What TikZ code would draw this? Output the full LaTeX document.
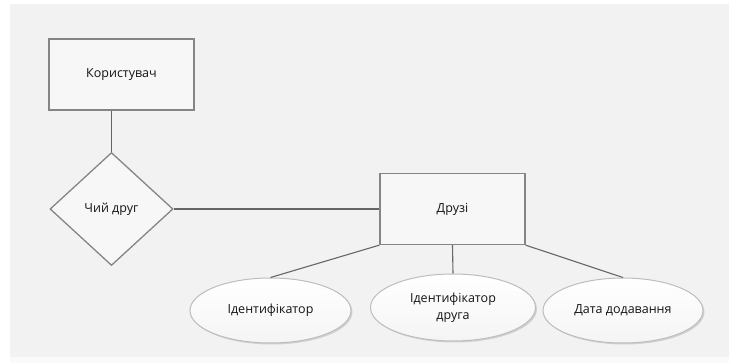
\documentclass[tikz,border=0pt]{standalone}
\usepackage{fontspec}
\setmainfont{Open Sans}
\usetikzlibrary{shapes.geometric,shadows}
\definecolor{panel}{HTML}{F2F2F2}
\definecolor{edge}{HTML}{858585}
\definecolor{link}{HTML}{666666}
\definecolor{ink}{HTML}{141414}
\definecolor{ovalrim}{HTML}{BDBDBD}
\tikzset{
  lbl/.style={font=\fontsize{12.5}{15}\selectfont, text=ink, align=center},
  entity/.style={lbl, draw=edge, line width=1.3pt, fill=panel!60!white,
    minimum width=145pt, minimum height=71pt, inner sep=0pt},
  relation/.style={lbl, diamond, draw=edge, line width=1.3pt, fill=panel!60!white,
    minimum width=123pt, minimum height=113pt, inner sep=0pt},
  attribute/.style={lbl, ellipse, draw=ovalrim, line width=1pt,
    top color=white, bottom color=panel!80!white,
    drop shadow={shadow xshift=1.5pt, shadow yshift=-1.5pt, fill=black!30, opacity=0.5},
    inner sep=0pt},
  link/.style={draw=link, line width=1.1pt}
}
\begin{document}
\begin{tikzpicture}[x=1pt,y=-1pt]
  % page and grey panel
  \fill[white] (0,0) rectangle (729,363);
  \fill[panel] (10,4) rectangle (729,357);
  \fill[black!2] (10,357) rectangle (729,363);
  \useasboundingbox (0,0) rectangle (729,363);

  % entities and relationship
  \node[entity] (user) at (121.5,74.5) {Користувач};
  \node[relation] (whose) at (111.5,209) {Чий друг};
  \node[entity] (friends) at (452.5,209) {Друзі};

  % attributes
  \node[attribute, minimum width=161pt, minimum height=65pt] (fid) at (270.5,310.5) {Ідентифікатор};
  \node[attribute, minimum width=165pt, minimum height=67pt] (ffid) at (453,307.5) {Ідентифікатор\\[2pt]друга};
  \node[attribute, minimum width=160pt, minimum height=65pt] (fdate) at (623,310.5) {Дата додавання};

  % connectors
  \draw[link] (user.south -| whose.north) -- (whose.north);
  \draw[link] (whose.east) -- (friends.west);
  \draw[link] (friends.south west) -- (fid.north);
  \draw[link] (friends.south) -- (ffid.north);
  \draw[link] (friends.south east) -- (fdate.north);
\end{tikzpicture}
\end{document}
